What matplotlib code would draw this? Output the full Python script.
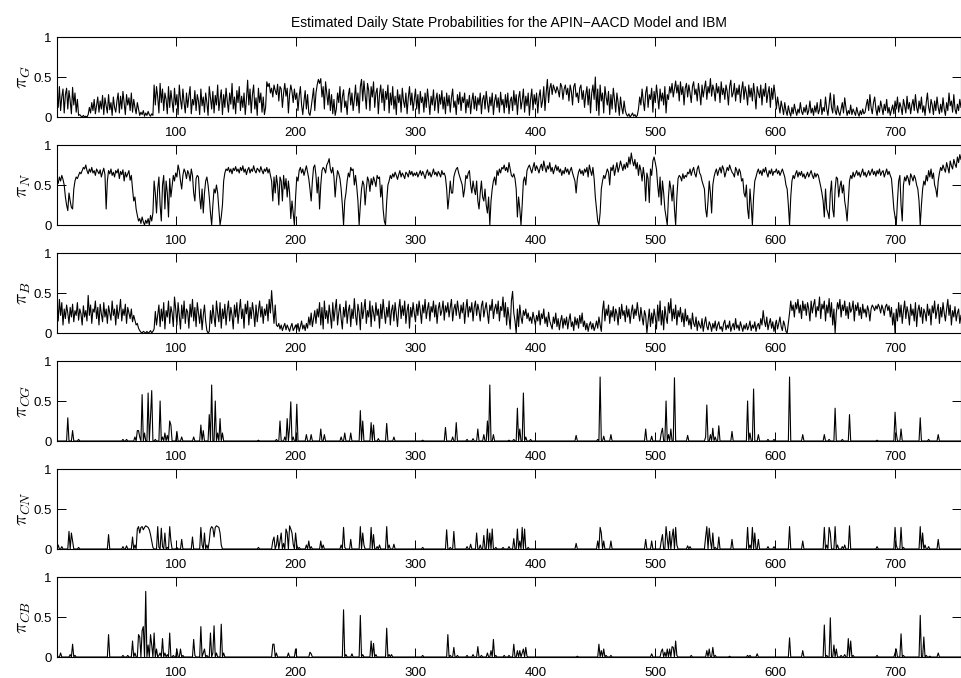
import numpy as np
import matplotlib
matplotlib.use("Agg")
import matplotlib.pyplot as plt

# daily state probabilities, values x100 (days 1..755)
pi_g = [
    30, 12, 38, 8, 25, 35, 5, 28, 36, 10, 33, 20, 4, 37, 15, 30, 6, 22, 2, 3, 1, 0, 2, 0, 1,
    0, 3, 12, 5, 18, 8, 22, 4, 15, 25, 6, 20, 10, 27, 3, 24, 14, 5, 28, 9, 18, 2, 25, 12, 6,
    20, 30, 5, 26, 10, 32, 18, 3, 28, 15, 24, 8, 30, 6, 22, 12, 4, 18, 10, 2, 6, 3, 8, 1, 5,
    2, 7, 3, 1, 4, 2, 40, 15, 38, 25, 5, 42, 18, 35, 8, 30, 22, 4, 38, 12, 33, 20, 6, 36, 15,
    28, 3, 40, 22, 10, 35, 18, 5, 30, 12, 26, 38, 4, 22, 15, 33, 8, 28, 20, 3, 35, 14, 25, 6, 30,
    18, 2, 38, 24, 10, 32, 5, 27, 15, 40, 8, 22, 34, 3, 28, 12, 36, 20, 6, 30, 16, 42, 10, 25, 4,
    33, 18, 38, 8, 26, 12, 30, 3, 22, 46, 15, 35, 5, 28, 40, 10, 24, 2, 36, 18, 30, 6, 25, 3, 12,
    44, 38, 42, 30, 36, 25, 40, 33, 28, 41, 20, 38, 35, 12, 30, 42, 26, 36, 5, 28, 40, 32, 18, 35, 22,
    30, 8, 26, 38, 15, 3, 20, 33, 10, 28, 5, 2, 12, 24, 36, 8, 30, 40, 47, 42, 48, 25, 38, 10, 44,
    30, 15, 35, 8, 28, 4, 22, 2, 10, 30, 18, 38, 6, 25, 34, 12, 20, 3, 27, 36, 15, 30, 8, 22, 40,
    14, 30, 5, 38, 47, 20, 45, 28, 10, 42, 33, 8, 38, 25, 44, 12, 30, 36, 4, 28, 40, 18, 35, 8, 32,
    22, 40, 5, 30, 15, 38, 10, 26, 3, 34, 18, 28, 6, 36, 20, 12, 30, 4, 24, 38, 15, 30, 8, 22, 35,
    10, 28, 4, 32, 18, 25, 6, 30, 12, 35, 20, 3, 26, 15, 34, 8, 22, 30, 5, 28, 16, 33, 10, 25, 4,
    30, 14, 27, 6, 24, 35, 12, 20, 3, 28, 16, 31, 8, 25, 18, 30, 5, 22, 12, 27, 4, 20, 30, 10, 26,
    8, 24, 15, 30, 4, 22, 27, 10, 32, 18, 6, 25, 14, 30, 3, 20, 28, 12, 24, 6, 31, 15, 22, 5, 28,
    12, 30, 4, 20, 25, 8, 33, 15, 28, 3, 24, 32, 10, 20, 35, 6, 26, 14, 30, 2, 22, 35, 9, 28, 16,
    30, 5, 25, 34, 12, 20, 38, 8, 30, 47, 18, 36, 42, 28, 40, 35, 30, 38, 33, 25, 42, 38, 22, 35, 40,
    28, 36, 20, 40, 32, 15, 38, 42, 25, 30, 18, 36, 40, 22, 33, 12, 28, 38, 15, 35, 5, 30, 40, 22, 50,
    8, 35, 2, 40, 20, 30, 5, 38, 25, 15, 32, 3, 28, 10, 36, 22, 6, 30, 18, 2, 25, 12, 4, 20, 8,
    3, 1, 4, 0, 2, 5, 1, 3, 0, 2, 10, 25, 15, 35, 20, 8, 30, 38, 12, 28, 22, 36, 6, 32, 18,
    40, 25, 10, 35, 20, 30, 15, 38, 5, 28, 22, 38, 30, 42, 25, 35, 45, 30, 40, 20, 44, 28, 38, 15, 36,
    42, 25, 40, 30, 18, 38, 44, 28, 35, 20, 42, 30, 15, 40, 25, 36, 45, 22, 38, 30, 48, 26, 40, 33, 20,
    42, 30, 38, 18, 44, 28, 36, 22, 40, 32, 15, 38, 46, 25, 30, 42, 20, 36, 28, 40, 18, 34, 44, 22, 38,
    30, 15, 40, 25, 36, 20, 42, 28, 10, 38, 30, 24, 40, 15, 35, 26, 42, 18, 30, 38, 12, 36, 22, 40, 28,
    10, 25, 15, 5, 20, 12, 3, 18, 8, 2, 14, 6, 1, 12, 4, 16, 8, 2, 10, 5, 18, 7, 3, 12, 6,
    15, 3, 8, 20, 5, 11, 2, 14, 6, 18, 4, 9, 22, 3, 12, 7, 25, 10, 2, 16, 30, 12, 5, 28, 8,
    3, 14, 6, 2, 10, 18, 5, 24, 12, 2, 8, 4, 15, 3, 10, 6, 2, 12, 5, 1, 8, 3, 10, 4, 6,
    15, 22, 8, 28, 12, 4, 18, 25, 10, 2, 14, 6, 20, 12, 3, 16, 8, 22, 5, 12, 2, 9, 15, 4, 20,
    10, 25, 6, 18, 12, 3, 22, 14, 5, 26, 10, 18, 4, 15, 22, 8, 28, 12, 5, 20, 10, 25, 6, 14, 2,
    18, 30, 12, 5, 22, 15, 3, 20, 8, 25, 12, 4, 16, 6, 24, 10, 2, 18, 8, 30, 14, 20, 6, 28, 10,
    4, 16, 8, 22, 12,
]

pi_n = [
    58, 52, 60, 55, 62, 57, 50, 35, 25, 18, 40, 30, 22, 20, 45, 55, 60, 58, 62, 66, 64, 68, 72, 70, 75,
    68, 64, 70, 66, 72, 65, 68, 62, 70, 67, 64, 69, 60, 66, 71, 63, 20, 55, 68, 64, 70, 62, 66, 60, 68,
    65, 70, 58, 67, 63, 69, 55, 66, 60, 64, 68, 56, 62, 45, 30, 35, 20, 12, 5, 8, 2, 10, 4, 0, 6,
    2, 8, 0, 12, 5, 15, 55, 40, 15, 45, 60, 25, 5, 50, 62, 20, 55, 40, 10, 58, 35, 48, 62, 55, 65,
    60, 75, 68, 55, 45, 62, 70, 66, 58, 68, 64, 55, 70, 62, 40, 30, 58, 62, 60, 35, 20, 45, 15, 40, 55,
    60, 50, 35, 15, 0, 25, 45, 40, 50, 40, 20, 0, 10, 25, 55, 65, 70, 68, 72, 66, 70, 64, 71, 68, 73,
    67, 70, 65, 72, 68, 74, 66, 70, 63, 69, 72, 65, 70, 67, 74, 68, 65, 71, 69, 66, 73, 68, 64, 70, 67,
    72, 65, 70, 62, 55, 30, 60, 40, 62, 50, 25, 60, 55, 30, 62, 45, 58, 35, 55, 40, 8, 30, 15, 0, 35,
    60, 55, 68, 72, 65, 70, 62, 68, 74, 66, 58, 45, 30, 55, 72, 75, 62, 40, 60, 20, 50, 68, 72, 70, 65,
    75, 78, 83, 70, 65, 72, 60, 35, 55, 68, 64, 58, 45, 25, 0, 30, 40, 55, 65, 60, 72, 68, 70, 50, 62,
    48, 30, 0, 25, 45, 55, 50, 25, 45, 60, 55, 42, 58, 50, 60, 55, 48, 62, 58, 60, 35, 50, 20, 5, 0,
    30, 50, 55, 62, 58, 64, 60, 66, 62, 57, 63, 68, 60, 65, 62, 58, 66, 64, 60, 68, 63, 67, 61, 65, 62,
    66, 60, 64, 68, 62, 67, 63, 58, 65, 69, 62, 66, 60, 64, 70, 63, 66, 61, 67, 64, 60, 68, 63, 65, 60,
    45, 20, 35, 55, 40, 40, 60, 66, 70, 72, 65, 60, 55, 50, 35, 45, 62, 58, 65, 68, 50, 40, 55, 45, 38,
    55, 30, 20, 40, 55, 35, 30, 45, 25, 15, 35, 0, 30, 45, 55, 60, 50, 68, 62, 70, 65, 72, 70, 75, 68,
    72, 66, 78, 70, 62, 60, 64, 58, 45, 10, 35, 20, 0, 25, 55, 60, 50, 68, 72, 75, 70, 65, 72, 78, 68,
    74, 70, 65, 72, 76, 68, 80, 72, 66, 74, 70, 78, 67, 72, 64, 70, 75, 68, 73, 66, 70, 62, 68, 64, 72,
    66, 70, 63, 68, 72, 65, 60, 55, 40, 58, 66, 70, 64, 68, 62, 70, 66, 72, 60, 75, 68, 62, 72, 58, 35,
    20, 5, 0, 15, 45, 55, 62, 58, 64, 70, 66, 50, 72, 68, 75, 62, 70, 78, 66, 72, 80, 74, 68, 76, 70,
    78, 72, 85, 76, 90, 80, 74, 82, 70, 78, 62, 75, 68, 55, 72, 60, 30, 65, 58, 28, 70, 62, 80, 85, 78,
    70, 50, 35, 60, 25, 55, 40, 20, 10, 0, 35, 55, 45, 30, 50, 20, 0, 35, 58, 62, 60, 55, 64, 58, 62,
    60, 66, 64, 70, 62, 68, 72, 64, 60, 70, 74, 65, 62, 55, 50, 45, 20, 10, 30, 55, 40, 15, 50, 60, 66,
    70, 62, 68, 72, 65, 74, 70, 60, 66, 72, 68, 75, 70, 66, 64, 60, 72, 68, 62, 70, 66, 55, 58, 40, 35,
    50, 20, 8, 45, 25, 0, 35, 55, 60, 66, 70, 64, 68, 62, 70, 66, 72, 65, 60, 68, 64, 70, 62, 67, 66,
    70, 64, 68, 62, 66, 70, 65, 60, 50, 45, 25, 0, 35, 55, 62, 58, 64, 68, 60, 66, 62, 67, 60, 64, 58,
    62, 66, 60, 64, 68, 62, 58, 65, 60, 64, 62, 55, 48, 40, 30, 10, 45, 20, 15, 8, 40, 55, 20, 10, 45,
    60, 58, 35, 48, 55, 40, 50, 30, 20, 5, 30, 55, 62, 58, 66, 60, 64, 68, 62, 66, 60, 65, 70, 62, 66,
    60, 64, 68, 62, 66, 70, 63, 67, 61, 68, 64, 70, 62, 66, 68, 60, 65, 70, 63, 67, 62, 58, 40, 20, 10,
    0, 30, 55, 62, 25, 5, 50, 60, 55, 62, 58, 50, 64, 60, 55, 62, 58, 50, 45, 30, 0, 25, 45, 55, 50,
    62, 55, 68, 60, 70, 58, 65, 50, 45, 35, 55, 65, 72, 68, 75, 70, 66, 78, 72, 65, 80, 74, 70, 82, 76,
    72, 85, 78, 88, 82,
]

pi_b = [
    40, 15, 42, 22, 38, 10, 30, 18, 35, 25, 12, 32, 20, 36, 14, 28, 22, 38, 16, 30, 24, 10, 34, 20, 28,
    15, 47, 22, 35, 12, 30, 26, 40, 18, 32, 10, 36, 24, 14, 38, 20, 30, 12, 34, 25, 16, 40, 22, 30, 10,
    35, 18, 28, 42, 15, 30, 22, 36, 12, 32, 25, 18, 30, 14, 22, 16, 10, 12, 6, 3, 1, 0, 2, 1, 0,
    2, 0, 1, 3, 0, 2, 5, 27, 10, 22, 35, 8, 30, 15, 38, 5, 28, 20, 40, 12, 33, 25, 8, 45, 30,
    10, 38, 22, 5, 35, 18, 40, 12, 30, 26, 6, 36, 20, 42, 15, 32, 8, 38, 25, 12, 30, 4, 22, 35, 15,
    3, 0, 2, 28, 12, 35, 20, 8, 40, 25, 14, 38, 6, 30, 18, 36, 10, 28, 40, 15, 32, 22, 5, 35, 20,
    38, 12, 28, 42, 18, 30, 6, 36, 24, 40, 10, 32, 18, 38, 26, 8, 35, 14, 28, 40, 20, 33, 12, 30, 22,
    36, 15, 42, 25, 53, 30, 12, 35, 10, 8, 12, 5, 10, 3, 8, 12, 4, 10, 6, 2, 8, 12, 3, 6, 10,
    4, 12, 2, 8, 15, 5, 10, 3, 12, 6, 20, 10, 25, 8, 18, 28, 12, 30, 20, 38, 10, 32, 5, 40, 18,
    28, 12, 35, 22, 6, 38, 15, 30, 42, 10, 25, 36, 18, 5, 32, 20, 40, 12, 28, 35, 8, 30, 18, 43, 22,
    10, 36, 26, 4, 38, 18, 30, 42, 12, 28, 20, 40, 8, 34, 25, 15, 38, 22, 30, 6, 36, 18, 42, 26, 12,
    32, 20, 40, 10, 28, 35, 15, 38, 24, 8, 30, 42, 18, 34, 22, 40, 12, 28, 36, 6, 32, 20, 38, 25, 14,
    36, 22, 40, 28, 12, 35, 25, 42, 18, 30, 38, 15, 33, 26, 40, 20, 35, 12, 30, 38, 22, 28, 40, 16, 34,
    26, 38, 20, 32, 42, 15, 30, 36, 22, 40, 28, 18, 35, 25, 38, 12, 30, 42, 20, 33, 26, 38, 15, 32, 40,
    22, 36, 28, 15, 34, 40, 20, 30, 38, 25, 12, 35, 28, 42, 18, 30, 36, 24, 40, 15, 33, 28, 45, 20, 38,
    10, 32, 20, 5, 40, 52, 25, 15, 0, 30, 8, 35, 20, 12, 28, 22, 30, 18, 25, 15, 20, 12, 26, 18, 10,
    22, 15, 28, 10, 24, 18, 30, 12, 20, 8, 26, 15, 10, 5, 20, 12, 25, 8, 18, 4, 15, 22, 6, 18, 10,
    20, 5, 16, 24, 8, 14, 3, 20, 10, 18, 6, 22, 12, 25, 8, 15, 4, 12, 2, 10, 14, 5, 12, 3, 8,
    15, 6, 20, 10, 2, 28, 40, 15, 30, 22, 35, 12, 28, 20, 33, 15, 30, 24, 10, 32, 18, 36, 22, 28, 14,
    34, 20, 30, 12, 26, 35, 18, 30, 22, 38, 25, 15, 32, 20, 10, 28, 22, 0, 15, 30, 8, 25, 12, 30, 20,
    5, 35, 15, 40, 10, 28, 4, 33, 20, 12, 38, 25, 43, 15, 30, 18, 35, 10, 28, 20, 32, 14, 25, 8, 30,
    15, 22, 10, 18, 5, 25, 12, 8, 20, 3, 15, 10, 6, 18, 2, 12, 20, 8, 4, 14, 10, 2, 12, 6, 15,
    3, 10, 14, 5, 8, 2, 12, 16, 4, 10, 6, 15, 2, 8, 12, 4, 18, 6, 10, 3, 14, 8, 2, 10, 5,
    12, 4, 8, 15, 3, 10, 6, 14, 2, 9, 12, 5, 18, 10, 28, 15, 8, 20, 4, 12, 18, 6, 14, 2, 10,
    16, 5, 12, 20, 8, 3, 15, 10, 2, 0, 12, 25, 40, 28, 35, 20, 38, 30, 42, 25, 35, 18, 40, 28, 36,
    22, 38, 30, 15, 40, 25, 35, 42, 20, 33, 28, 45, 18, 36, 30, 40, 15, 35, 25, 43, 20, 38, 10, 30, 0,
    25, 38, 30, 42, 20, 35, 28, 40, 22, 33, 18, 38, 26, 30, 40, 15, 35, 28, 38, 22, 32, 18, 36, 25, 30,
    20, 34, 28, 15, 30, 35, 32, 28, 34, 30, 36, 32, 25, 35, 30, 22, 33, 36, 28, 34, 20, 32, 10, 25, 0,
    30, 15, 38, 20, 35, 12, 28, 40, 18, 33, 25, 10, 36, 22, 30, 15, 38, 8, 28, 35, 20, 32, 12, 30, 25,
    15, 36, 22, 30, 10, 34, 25, 40, 18, 28, 36, 12, 32, 20, 38, 25, 15, 30, 42, 22, 35, 10, 28, 20, 33,
    15, 25, 30, 12, 22,
]

# crisis states: mostly zero, (day, value x100) for the non-zero days
pi_cg = [
    (10, 29), (14, 13), (19, 2), (56, 2), (59, 2), (66, 5), (68, 13), (69, 13), (70, 5),
    (72, 58), (74, 10), (77, 60), (79, 30), (80, 63), (83, 2), (87, 50), (89, 5), (91, 10),
    (93, 7), (95, 25), (96, 20), (101, 12), (105, 5), (115, 5), (121, 20), (123, 13),
    (128, 33), (130, 70), (133, 50), (135, 10), (137, 28), (139, 10), (169, 1), (184, 2),
    (187, 25), (191, 5), (193, 28), (195, 17), (196, 49), (198, 5), (201, 46), (209, 8),
    (213, 8), (221, 15), (224, 8), (238, 5), (241, 10), (246, 10), (254, 38), (256, 25),
    (263, 23), (265, 20), (269, 3), (276, 22), (282, 5), (306, 1), (325, 17), (331, 5),
    (334, 23), (343, 2), (348, 3), (352, 15), (357, 8), (360, 25), (362, 70), (365, 8),
    (378, 1), (382, 2), (385, 41), (387, 15), (390, 60), (392, 5), (396, 2), (434, 7),
    (452, 2), (454, 80), (457, 6), (463, 8), (492, 15), (497, 6), (505, 10), (506, 16),
    (509, 50), (511, 8), (513, 15), (516, 79), (527, 7), (542, 5), (543, 45), (546, 8),
    (548, 16), (550, 5), (553, 19), (564, 12), (577, 50), (579, 10), (582, 65), (586, 8),
    (594, 2), (599, 2), (612, 80), (623, 8), (641, 8), (645, 2), (650, 41), (656, 2),
    (662, 33), (685, 1), (700, 36), (701, 10), (705, 15), (721, 29), (728, 2), (736, 8),
]

pi_cn = [
    (2, 5), (5, 3), (11, 22), (13, 20), (14, 10), (19, 2), (44, 18), (56, 3), (59, 4),
    (64, 15), (66, 5), (68, 25), (69, 28), (70, 20), (71, 27), (72, 28), (73, 24), (74, 27),
    (75, 29), (76, 28), (77, 27), (78, 24), (79, 18), (80, 10), (81, 2), (85, 28), (86, 2),
    (88, 26), (89, 3), (91, 20), (93, 2), (95, 28), (96, 10), (101, 2), (105, 12), (114, 15),
    (121, 27), (122, 5), (124, 20), (126, 5), (128, 10), (129, 25), (130, 28), (131, 26),
    (132, 15), (133, 27), (134, 29), (135, 28), (136, 27), (137, 20), (138, 5), (169, 2),
    (181, 10), (182, 15), (184, 5), (185, 17), (187, 10), (188, 20), (190, 7), (192, 25),
    (193, 20), (195, 29), (196, 25), (197, 20), (198, 6), (200, 20), (201, 5), (203, 2),
    (209, 5), (211, 10), (213, 3), (221, 10), (223, 5), (238, 5), (240, 27), (241, 2),
    (246, 12), (254, 28), (256, 20), (257, 5), (263, 27), (265, 18), (268, 3), (270, 5),
    (276, 28), (278, 5), (282, 6), (306, 2), (326, 24), (329, 2), (332, 22), (343, 3),
    (346, 6), (351, 20), (354, 5), (357, 17), (360, 25), (362, 20), (364, 25), (367, 2),
    (373, 2), (378, 3), (382, 13), (385, 25), (387, 10), (389, 27), (391, 25), (394, 2),
    (434, 7), (452, 10), (454, 27), (455, 20), (457, 10), (463, 10), (492, 12), (497, 10),
    (505, 10), (506, 18), (509, 28), (510, 13), (512, 22), (514, 15), (515, 25), (517, 27),
    (518, 5), (527, 4), (529, 3), (542, 15), (543, 28), (545, 26), (546, 10), (548, 20),
    (550, 2), (553, 15), (564, 12), (577, 27), (579, 5), (581, 27), (583, 20), (586, 12),
    (594, 3), (599, 3), (612, 28), (623, 10), (641, 27), (643, 5), (645, 27), (646, 20),
    (650, 28), (652, 5), (656, 3), (658, 5), (662, 29), (685, 3), (700, 27), (701, 5),
    (705, 27), (707, 2), (721, 28), (723, 20), (725, 5), (728, 3), (736, 12),
]

pi_cb = [
    (1, 3), (4, 5), (12, 3), (14, 16), (16, 2), (44, 28), (56, 2), (60, 2), (64, 20),
    (66, 5), (69, 28), (70, 25), (72, 33), (73, 38), (75, 82), (77, 15), (79, 28), (80, 15),
    (82, 30), (84, 10), (86, 2), (87, 5), (89, 23), (91, 5), (93, 3), (95, 30), (98, 2),
    (101, 10), (104, 10), (106, 2), (115, 22), (116, 2), (121, 38), (123, 5), (124, 10),
    (126, 2), (129, 30), (131, 5), (132, 39), (134, 5), (138, 41), (140, 5), (181, 16),
    (182, 16), (184, 5), (194, 5), (200, 10), (212, 6), (213, 4), (240, 59), (242, 3),
    (247, 4), (254, 52), (256, 3), (263, 20), (265, 17), (267, 3), (276, 36), (278, 3),
    (280, 3), (306, 2), (327, 28), (329, 2), (332, 12), (335, 2), (343, 2), (348, 3),
    (352, 13), (355, 2), (360, 5), (363, 8), (365, 22), (367, 2), (374, 2), (378, 2),
    (382, 16), (385, 8), (387, 8), (389, 5), (390, 10), (392, 12), (393, 1), (435, 1),
    (453, 16), (455, 8), (457, 10), (459, 2), (463, 2), (497, 4), (505, 7), (506, 10),
    (508, 6), (510, 10), (512, 10), (514, 13), (515, 12), (517, 20), (518, 2), (530, 2),
    (543, 8), (545, 10), (548, 12), (550, 2), (562, 1), (577, 2), (579, 2), (585, 4),
    (612, 24), (623, 8), (641, 40), (643, 2), (646, 49), (649, 15), (651, 10), (655, 2),
    (658, 3), (661, 23), (663, 20), (665, 2), (685, 2), (700, 5), (701, 10), (705, 29),
    (707, 2), (721, 52), (724, 25), (726, 2), (729, 1), (736, 5),
]

y_labels = [r"$\pi_G$", r"$\pi_N$", r"$\pi_B$", r"$\pi_{CG}$", r"$\pi_{CN}$", r"$\pi_{CB}$"]
x_ticks = [100, 200, 300, 400, 500, 600, 700]
y_ticks = [0, 0.5, 1]
y_tick_labels = ["0", "0.5", "1"]
title = "Estimated Daily State Probabilities for the APIN\u2212AACD Model and IBM"

N_DAYS = len(pi_g)


def from_spikes(pairs):
    s = np.zeros(N_DAYS)
    for d, v in pairs:
        s[d - 1] = v
    return s


plt.rcParams["font.family"] = ["Liberation Sans", "DejaVu Sans"]
plt.rcParams["mathtext.fontset"] = "cm"

series = [
    np.array(pi_g) / 100,
    np.array(pi_n) / 100,
    np.array(pi_b) / 100,
    from_spikes(pi_cg) / 100,
    from_spikes(pi_cn) / 100,
    from_spikes(pi_cb) / 100,
]

W, H = 962, 678
fig = plt.figure(figsize=(W / 100, H / 100), dpi=100)

left_px, right_px = 57, 961
tops = [37, 145, 253, 361, 469, 577]
h_px = 80

for i, (vals, lab) in enumerate(zip(series, y_labels)):
    top = tops[i]
    ax = fig.add_axes([left_px / W, 1 - (top + h_px) / H,
                       (right_px - left_px) / W, h_px / H])
    days = np.arange(1, len(vals) + 1)
    ax.plot(days, vals, color="black", lw=0.8)
    ax.set_xlim(1, 755)
    ax.set_ylim(0, 1)
    ax.set_xticks(x_ticks)
    ax.set_yticks(y_ticks)
    ax.set_yticklabels(y_tick_labels)
    ax.tick_params(direction="in", top=True, right=True, length=6.5, width=0.7,
                   labelsize=9.5)
    ax.tick_params(axis="x", pad=7)
    ax.tick_params(axis="y", pad=4)
    for sp in ax.spines.values():
        sp.set_linewidth(0.8)
    ax.set_ylabel(lab, fontsize=14)
    ax.yaxis.set_label_coords(-0.027, 0.5)
    if i == 0:
        ax.set_title(title, fontsize=10, pad=7)

fig.savefig("out.png", dpi=100)
